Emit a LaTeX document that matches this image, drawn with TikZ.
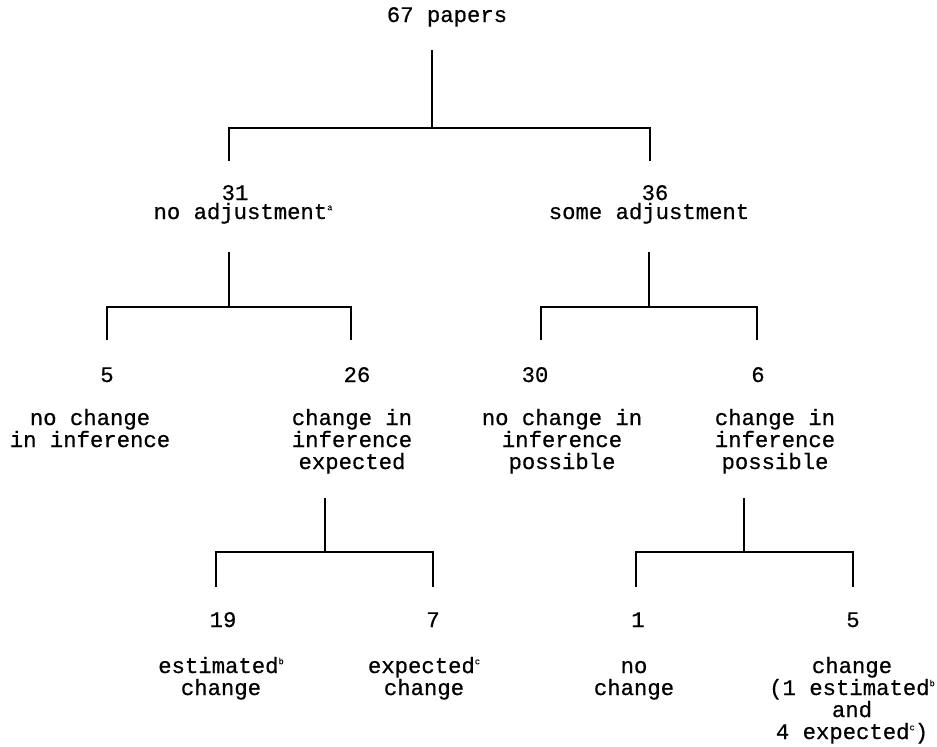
\documentclass[tikz,border=0pt]{standalone}
\usepackage{fontspec}
\setmainfont{Liberation Mono}[FakeBold=0.6]
\newcommand{\tfont}{\fontsize{16.7pt}{16.5pt}\selectfont}
\newcommand{\supl}[1]{\raisebox{0.75ex}{\fontsize{6.5pt}{6.5pt}\selectfont #1}}
\tikzset{
  num/.style={anchor=base, inner sep=0pt, font=\tfont},
  lab/.style={anchor=base, inner sep=0pt, align=center, font=\tfont},
  tree/.style={line width=1pt, line cap=butt}
}
\begin{document}
\begin{tikzpicture}[x=0.75pt, y=-0.75pt]
\useasboundingbox (0,0) rectangle (937,746);

% texts (multi-line labels are placed by the baseline of their last line)
\node[num] (n67) at (447,22) {67 papers};
\node[num] (n31) at (235,200) {31};
\node[lab] (l31) at (243,219) {no adjustment\supl{a}};
\node[num] (n36) at (655,200) {36};
\node[lab] (l36) at (649,219) {some adjustment};

\node[num] (n5)  at (107,382) {5};
\node[num] (n26) at (357,382) {26};
\node[num] (n30) at (535,382) {30};
\node[num] (n6)  at (758,382) {6};
\node[lab] (l5)  at (90,447)  {no change\\in inference};
\node[lab] (l26) at (352,469) {change in\\inference\\expected};
\node[lab] (l30) at (562,469) {no change in\\inference\\possible};
\node[lab] (l6)  at (775,469) {change in\\inference\\possible};

\node[num] (n19) at (223,627) {19};
\node[num] (n7)  at (433,627) {7};
\node[num] (n1)  at (638,627) {1};
\node[num] (n5b) at (853,627) {5};
\node[lab] (l19) at (221,695) {estimated\supl{b}\\change};
\node[lab] (l7)  at (424,695) {expected\supl{c}\\change};
\node[lab] (l1)  at (634,695) {no\\change};
\node[lab] (l5b) at (852,739) {change\\(1 estimated\supl{b}\\and\\4 expected\supl{c})};

% junction coordinates
\coordinate (s0) at (432,50);  \coordinate (j0) at (432,128);
\coordinate (a0) at (229,128); \coordinate (b0) at (650,128);
\coordinate (e31) at (229,161); \coordinate (e36) at (650,161);

\coordinate (s1) at (229,252); \coordinate (j1) at (229,307);
\coordinate (a1) at (107,307); \coordinate (b1) at (351,307);
\coordinate (e5) at (107,340); \coordinate (e26) at (351,340);

\coordinate (s2) at (649,252); \coordinate (j2) at (649,307);
\coordinate (a2) at (541,307); \coordinate (b2) at (757,307);
\coordinate (e30) at (541,340); \coordinate (e6) at (757,340);

\coordinate (s3) at (325,498); \coordinate (j3) at (325,552);
\coordinate (a3) at (216,552); \coordinate (b3) at (433,552);
\coordinate (e19) at (216,587); \coordinate (e7) at (433,587);

\coordinate (s4) at (744,498); \coordinate (j4) at (744,552);
\coordinate (a4) at (636,552); \coordinate (b4) at (853,552);
\coordinate (e1) at (636,587); \coordinate (e5b) at (853,587);

% connectors
\draw[tree] (s0) -- (j0);
\draw[tree] (e31) -- (a0) -- (b0) -- (e36);
\draw[tree] (s1) -- (j1);
\draw[tree] (e5) -- (a1) -- (b1) -- (e26);
\draw[tree] (s2) -- (j2);
\draw[tree] (e30) -- (a2) -- (b2) -- (e6);
\draw[tree] (s3) -- (j3);
\draw[tree] (e19) -- (a3) -- (b3) -- (e7);
\draw[tree] (s4) -- (j4);
\draw[tree] (e1) -- (a4) -- (b4) -- (e5b);
\end{tikzpicture}
\end{document}
